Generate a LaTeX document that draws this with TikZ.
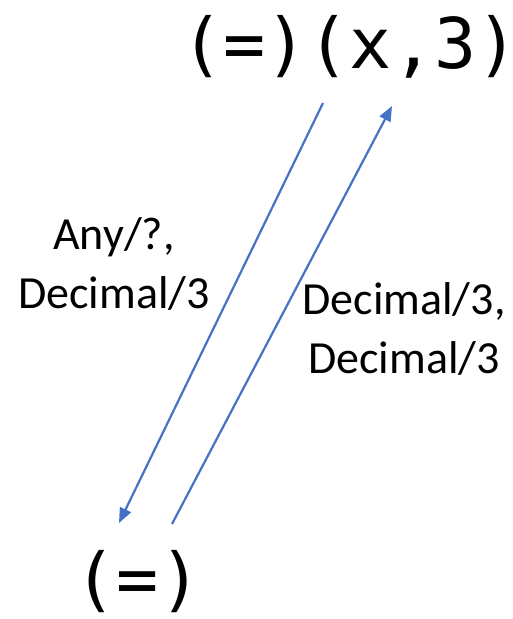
\documentclass[tikz,border=0pt]{standalone}
\usepackage{fontspec}
\setmainfont{Carlito}
\newfontfamily\monofnt{DejaVu Sans Mono}
\usetikzlibrary{arrows.meta}
\definecolor{arrowblue}{HTML}{4472C4}
\tikzset{
  statelbl/.style={font=\monofnt\fontsize{70}{70}\selectfont, inner sep=0pt, anchor=base},
  edgelbl/.style={font=\fontsize{46}{59}\selectfont, align=center, inner sep=0pt},
  trans/.style={draw=arrowblue, line width=2.2pt, -{Triangle[length=15pt,width=12pt]}}
}
\begin{document}
\begin{tikzpicture}[x=1pt,y=-1pt]
\useasboundingbox (0,0) rectangle (512,619);
\node[statelbl] (top) at (350,68) {(=)(x,3)};
\node[statelbl] (bot) at (138,603) {(=)};
\coordinate (a1s) at (323,103);
\coordinate (a1e) at (119,523);
\coordinate (a2s) at (172,524);
\coordinate (a2e) at (392,106);
\draw[trans] (a1s) -- (a1e);
\draw[trans] (a2s) -- (a2e);
\node[edgelbl] (l1) at (114,264) {Any/?,\\Decimal/3};
\node[edgelbl] (l2) at (404,329) {Decimal/3,\\Decimal/3};
\end{tikzpicture}
\end{document}
